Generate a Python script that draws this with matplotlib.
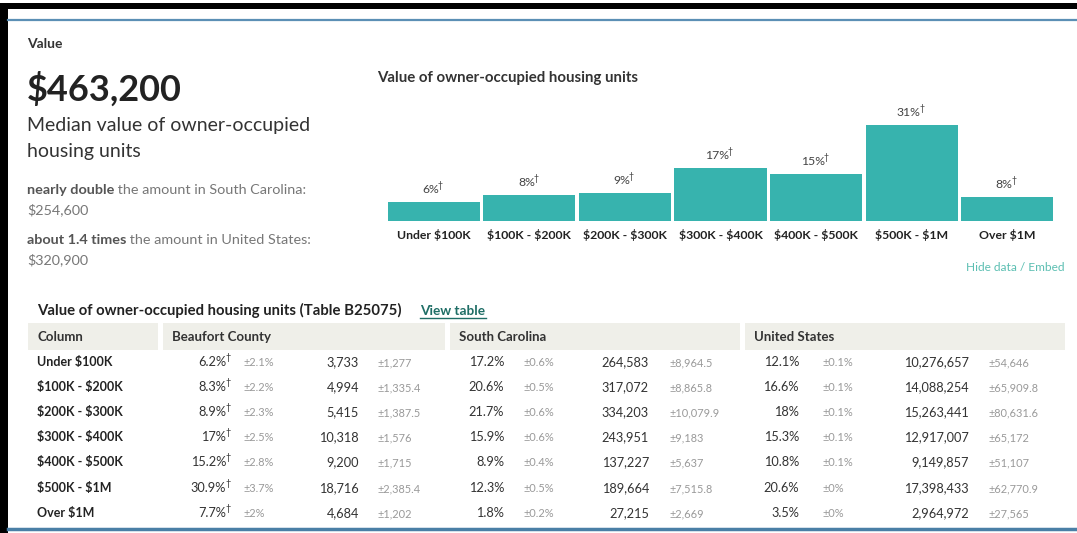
import matplotlib
matplotlib.use("Agg")
import matplotlib.pyplot as plt
from matplotlib.patches import Rectangle

plt.rcParams["font.family"] = ["Lato", "DejaVu Sans"]

# ---- data ----
categories = ["Under $100K", "$100K - $200K", "$200K - $300K", "$300K - $400K",
              "$400K - $500K", "$500K - $1M", "Over $1M"]

beaufort_pct       = [6.2, 8.3, 8.9, 17, 15.2, 30.9, 7.7]
beaufort_pct_moe   = [2.1, 2.2, 2.3, 2.5, 2.8, 3.7, 2]
beaufort_count     = [3733, 4994, 5415, 10318, 9200, 18716, 4684]
beaufort_count_moe = [1277, 1335.4, 1387.5, 1576, 1715, 2385.4, 1202]

sc_pct       = [17.2, 20.6, 21.7, 15.9, 8.9, 12.3, 1.8]
sc_pct_moe   = [0.6, 0.5, 0.6, 0.6, 0.4, 0.5, 0.2]
sc_count     = [264583, 317072, 334203, 243951, 137227, 189664, 27215]
sc_count_moe = [8964.5, 8865.8, 10079.9, 9183, 5637, 7515.8, 2669]

us_pct       = [12.1, 16.6, 18, 15.3, 10.8, 20.6, 3.5]
us_pct_moe   = [0.1, 0.1, 0.1, 0.1, 0.1, 0, 0]
us_count     = [10276657, 14088254, 15263441, 12917007, 9149857, 17398433, 2964972]
us_count_moe = [54646, 65909.8, 80631.6, 65172, 51107, 62770.9, 27565]

median_value = 463200
sc_median    = 254600
us_median    = 320900

TEAL  = "#37b3ae"
DARK  = "#333333"
MOE_C = "#999999"
HEAD_BG = "#efefe9"


def fmt_pct(v):
    return f"{v:g}%"


def fmt_num(v):
    return f"{v:,.0f}" if float(v).is_integer() else f"{v:,.1f}"


W, H = 1077, 533
fig = plt.figure(figsize=(W / 100, H / 100), dpi=100)
bg = fig.add_axes([0, 0, 1, 1])
bg.set_xlim(0, W)
bg.set_ylim(H, 0)
bg.axis("off")


def txt(x, y, s, **kw):
    kw.setdefault("va", "baseline")
    return bg.text(x, y, s, parse_math=False, **kw)


# frame
bg.add_patch(Rectangle((0, 3), W, 6, color="black", lw=0))
bg.add_patch(Rectangle((0, 3), 8, H, color="black", lw=0))
bg.plot([8, W], [19.5, 19.5], color="#5b8fb5", lw=1.6)
bg.plot([8, W], [529, 529], color="#4a7fa6", lw=2.5)

# ---- left summary text ----
txt(27, 48, "Value", fontsize=10, weight="bold", color=DARK)
txt(27, 101, f"${median_value:,}", fontsize=26, weight="bold", color="#222222")
txt(27, 131, "Median value of owner-occupied", fontsize=14, color=DARK)
txt(27, 157, "housing units", fontsize=14, color=DARK)


def compare_line(y, bold, rest, val):
    t = txt(27, y, bold, fontsize=10.4, weight="bold", color="#555555")
    bg.annotate(rest, xycoords=t, xy=(1, 0), va="bottom", fontsize=10.4, color="#777777")
    txt(27, y + 20, f"${val:,}", fontsize=10.4, color="#777777")


compare_line(194, "nearly double", " the amount in South Carolina:", sc_median)
compare_line(244, "about 1.4 times", " the amount in United States:", us_median)

# ---- bar chart ----
txt(377, 82, "Value of owner-occupied housing units", fontsize=10.8, weight="bold",
    color=DARK)

ax = fig.add_axes([386 / W, 1 - 221 / H, (1055 - 386) / W, 96 / H])
x = range(len(categories))
ax.bar(x, beaufort_pct, width=0.965, color=TEAL, edgecolor="none")
ax.set_xlim(-0.5, len(categories) - 0.5)
ax.set_ylim(0, max(beaufort_pct))
ax.axis("off")
for i, v in enumerate(beaufort_pct):
    lab = ax.annotate(f"{v:.0f}%", xy=(i, v), xytext=(-3, 9), textcoords="offset pixels",
                      ha="center", va="baseline", fontsize=8.8, color="#444444")
    ax.annotate("†", xy=(1, 1), xycoords=lab, xytext=(-1.5, 3), textcoords="offset pixels",
                ha="left", va="top", fontsize=6.3, color="#444444")
    ax.annotate(categories[i], xy=(i, 0), xytext=(0, -18), textcoords="offset pixels",
                ha="center", va="baseline", fontsize=8.8, weight="bold", color="#222222",
                annotation_clip=False, parse_math=False)

txt(1065, 271, "Hide data / Embed", fontsize=8.6, color="#5cbfb2", ha="right")

# ---- table ----
txt(37, 315, "Value of owner-occupied housing units (Table B25075)", fontsize=10.7,
    weight="bold", color="#222222")
txt(420, 315, "View table", fontsize=9.8, weight="bold", color="#1f6e66")
bg.plot([420, 486], [318, 318], color="#1f6e66", lw=1)

headers = [("Column", 28, 158), ("Beaufort County", 163, 445),
           ("South Carolina", 450, 740), ("United States", 745, 1065)]
for name, x0, x1 in headers:
    bg.add_patch(Rectangle((x0, 323), x1 - x0, 27, color=HEAD_BG, lw=0))
    txt(x0 + 9, 341, name, fontsize=9.5, weight="bold", color="#333333")

row_y = [366, 391, 416, 441, 466, 492, 517]
geo_cols = [
    (beaufort_pct, beaufort_pct_moe, beaufort_count, beaufort_count_moe,
     226, 243, 359, 377, True),
    (sc_pct, sc_pct_moe, sc_count, sc_count_moe, 504, 523, 649, 669, False),
    (us_pct, us_pct_moe, us_count, us_count_moe, 799, 822, 969, 988, False),
]

for r, y in enumerate(row_y):
    txt(37, y, categories[r], fontsize=9, weight="bold", color="#222222")
    for pct, pmoe, cnt, cmoe, xp, xpm, xc, xcm, dag in geo_cols:
        txt(xp, y, fmt_pct(pct[r]), fontsize=9.2, color=DARK, ha="right")
        if dag:
            txt(xp - 0.5, y - 6, "†", fontsize=6.5, color=DARK)
        txt(xpm, y, "±" + fmt_pct(pmoe[r]), fontsize=7.9, color=MOE_C)
        txt(xc, y, fmt_num(cnt[r]), fontsize=9.2, color=DARK, ha="right")
        txt(xcm, y, "±" + fmt_num(cmoe[r]), fontsize=7.9, color=MOE_C)

fig.savefig("out.png", dpi=100)
